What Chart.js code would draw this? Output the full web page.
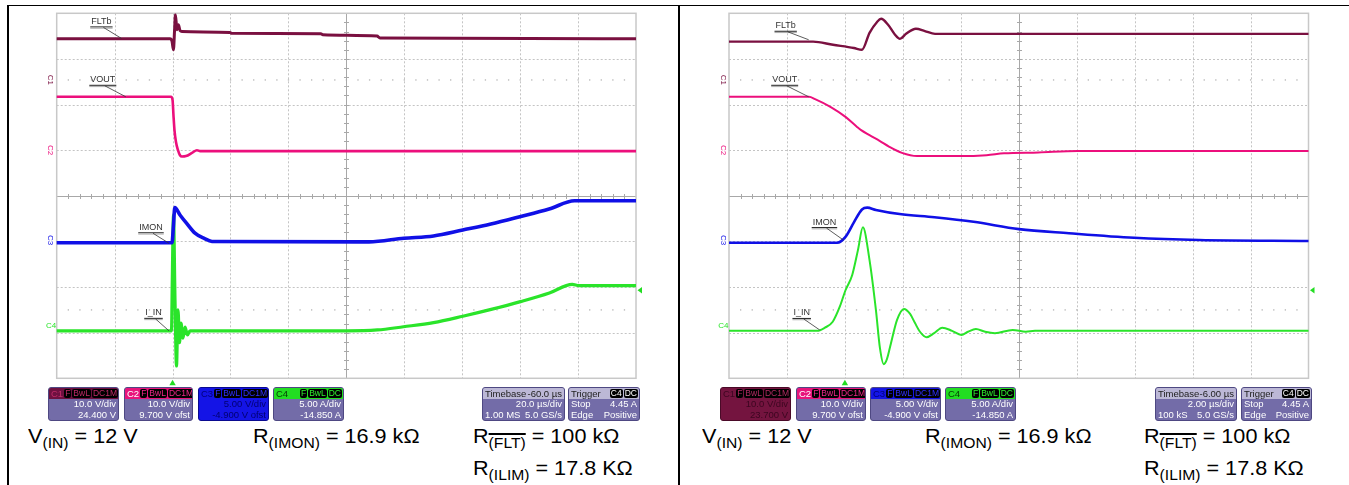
<!DOCTYPE html>
<html><head><meta charset="utf-8">
<script src="https://cdn.jsdelivr.net/npm/chart.js@4.4.0/dist/chart.umd.min.js"></script>
<style>
html,body{margin:0;padding:0;background:#fff;width:1349px;height:485px;overflow:hidden;font-family:"Liberation Sans",Arial,sans-serif;}
.ln{position:absolute;background:#000;}
canvas{position:absolute;}
.box{position:absolute;top:387px;height:34px;background:#736ca8;border:1px solid #4e4882;border-radius:3px;box-sizing:border-box;overflow:hidden;font-size:9.5px;color:#fff;}
.hdr{height:11px;line-height:11px;display:flex;align-items:center;padding:0 1px 0 2px;white-space:nowrap;}
.hdr .nm{flex:1;}
.tag{background:#000;border-radius:2px;padding:0 1px;margin-left:1px;line-height:9px;height:9px;font-size:8.5px;}
.row{height:10.5px;line-height:10.5px;text-align:right;padding-right:2px;white-space:nowrap;}
.row2{height:10.5px;line-height:10.5px;display:flex;justify-content:space-between;padding:0 2px;white-space:nowrap;}
.eq{position:absolute;font-size:20px;line-height:20px;color:#000;white-space:nowrap;transform:scaleX(1.08);transform-origin:0 0;}
.eq .s{font-size:14.5px;position:relative;top:4.5px;}
.ov{text-decoration:overline;text-decoration-thickness:1.5px;}
</style></head><body>

<div class="ln" style="left:8px;top:4.5px;width:1341px;height:1.5px"></div>
<div class="ln" style="left:7px;top:4.5px;width:1.5px;height:481px"></div>
<div class="ln" style="left:678px;top:4.5px;width:1.5px;height:481px"></div>

<canvas id="cL" width="614" height="380" style="left:36px;top:8px"></canvas>
<canvas id="cR" width="614" height="380" style="left:708px;top:8px"></canvas>

<!-- left info boxes -->
<div class="box" style="left:48px;width:71px;">
  <div class="hdr" style="background:#6e1040"><span class="nm" style="color:#c02a68">C1</span><span class="tag" style="color:#c02a68">F</span><span class="tag" style="color:#c02a68">BwL</span><span class="tag" style="color:#c02a68">DC1M</span></div>
  <div class="row">10.0 V/div</div><div class="row">24.400 V</div>
</div>
<div class="box" style="left:124px;width:69px;">
  <div class="hdr" style="background:#e8147c"><span class="nm">C2</span><span class="tag" style="color:#f0288a">F</span><span class="tag" style="color:#f0288a">BwL</span><span class="tag" style="color:#f0288a">DC1M</span></div>
  <div class="row">10.0 V/div</div><div class="row">9.700 V ofst</div>
</div>
<div class="box" style="left:198px;width:71px;background:#1414e6;border-color:#0a0a90">
  <div class="hdr" style="background:#1414e6"><span class="nm" style="color:#00007a">C3</span><span class="tag" style="color:#3030ff">F</span><span class="tag" style="color:#3030ff">BwL</span><span class="tag" style="color:#3030ff">DC1M</span></div>
  <div class="row" style="color:#000070">5.00 V/div</div><div class="row" style="color:#000070">-4.900 V ofst</div>
</div>
<div class="box" style="left:273px;width:71px;">
  <div class="hdr" style="background:#22dd22"><span class="nm" style="color:#064006">C4</span><span class="tag" style="color:#30f030">F</span><span class="tag" style="color:#30f030">BwL</span><span class="tag" style="color:#30f030">DC</span></div>
  <div class="row">5.00 A/div</div><div class="row">-14.850 A</div>
</div>
<div class="box" style="left:482px;width:83px;">
  <div class="hdr" style="background:#bcb8d6;color:#222;padding-right:2px"><span class="nm">Timebase</span><span>-60.0 µs</span></div>
  <div class="row">20.0 µs/div</div><div class="row2"><span>1.00 MS</span><span>5.0 GS/s</span></div>
</div>
<div class="box" style="left:568px;width:72px;">
  <div class="hdr" style="background:#bcb8d6;color:#222"><span class="nm">Trigger</span><span class="tag" style="color:#fff">C4</span><span class="tag" style="color:#fff">DC</span></div>
  <div class="row2"><span>Stop</span><span>4.45 A</span></div><div class="row2"><span>Edge</span><span>Positive</span></div>
</div>

<!-- right info boxes -->
<div class="box" style="left:720px;width:71px;background:#74143f;border-color:#4a0a28">
  <div class="hdr" style="background:#74143f"><span class="nm" style="color:#3c0620">C1</span><span class="tag" style="color:#b02a62">F</span><span class="tag" style="color:#b02a62">BwL</span><span class="tag" style="color:#b02a62">DC1M</span></div>
  <div class="row" style="color:#3c0620">10.0 V/div</div><div class="row" style="color:#3c0620">23.700 V</div>
</div>
<div class="box" style="left:796px;width:70px;">
  <div class="hdr" style="background:#e8147c"><span class="nm">C2</span><span class="tag" style="color:#f0288a">F</span><span class="tag" style="color:#f0288a">BwL</span><span class="tag" style="color:#f0288a">DC1M</span></div>
  <div class="row">10.0 V/div</div><div class="row">9.700 V ofst</div>
</div>
<div class="box" style="left:870px;width:71px;">
  <div class="hdr" style="background:#1414e6"><span class="nm" style="color:#00007a">C3</span><span class="tag" style="color:#3030ff">F</span><span class="tag" style="color:#3030ff">BwL</span><span class="tag" style="color:#3030ff">DC1M</span></div>
  <div class="row">5.00 V/div</div><div class="row">-4.900 V ofst</div>
</div>
<div class="box" style="left:945px;width:71px;">
  <div class="hdr" style="background:#22dd22"><span class="nm" style="color:#064006">C4</span><span class="tag" style="color:#30f030">F</span><span class="tag" style="color:#30f030">BwL</span><span class="tag" style="color:#30f030">DC</span></div>
  <div class="row">5.00 A/div</div><div class="row">-14.850 A</div>
</div>
<div class="box" style="left:1155px;width:82px;">
  <div class="hdr" style="background:#bcb8d6;color:#222;padding-right:2px"><span class="nm">Timebase</span><span>-6.00 µs</span></div>
  <div class="row">2.00 µs/div</div><div class="row2"><span>100 kS</span><span>5.0 GS/s</span></div>
</div>
<div class="box" style="left:1241px;width:71px;">
  <div class="hdr" style="background:#bcb8d6;color:#222"><span class="nm">Trigger</span><span class="tag" style="color:#fff">C4</span><span class="tag" style="color:#fff">DC</span></div>
  <div class="row2"><span>Stop</span><span>4.45 A</span></div><div class="row2"><span>Edge</span><span>Positive</span></div>
</div>

<!-- equations -->
<div class="eq" style="left:28px;top:426px">V<span class="s">(IN)</span> = 12 V</div>
<div class="eq" style="left:253px;top:426px">R<span class="s">(IMON)</span> = 16.9 kΩ</div>
<div class="eq" style="left:473px;top:426px">R<span class="s ov">(FLT)</span> = 100 kΩ</div>
<div class="eq" style="left:473px;top:458px">R<span class="s">(ILIM)</span> = 17.8 KΩ</div>
<div class="eq" style="left:702px;top:426px">V<span class="s">(IN)</span> = 12 V</div>
<div class="eq" style="left:925px;top:426px">R<span class="s">(IMON)</span> = 16.9 kΩ</div>
<div class="eq" style="left:1144px;top:426px">R<span class="s ov">(FLT)</span> = 100 kΩ</div>
<div class="eq" style="left:1144px;top:458px">R<span class="s">(ILIM)</span> = 17.8 KΩ</div>

<script>
// ---------- data (time in µs, amplitude in screen divisions) ----------
const L_T_FLTB = [-40, -0.9, -0.2, 0.3, 0.7, 1.0, 1.5, 2.0, 2.6, 3.3, 19.8, 20.5, 51.2, 51.9, 70.6, 71.6, 160];
const L_V_FLTB = [3.44, 3.44, 3.39, 3.20, 3.64, 3.97, 3.64, 3.75, 3.62, 3.60, 3.58, 3.56, 3.55, 3.53, 3.50, 3.46, 3.44];
const L_T_VOUT = [-40, -0.55, 0, 0.31, 0.66, 1.18, 1.87, 2.56, 3.25, 4.63, 6.7, 8.43, 9.5, 160];
const L_V_VOUT = [2.17, 2.17, 2.10, 1.77, 1.44, 1.18, 1.00, 0.89, 0.86, 0.87, 0.94, 1.00, 0.98, 0.98];
const L_T_IMON = [-40, -0.19, 0.32, 0.77, 2.57, 4.81, 7.75, 10.79, 13.62, 67.82, 79.9, 90.1, 100.2, 109.9, 119.9, 130.0, 138.8, 160];
const L_V_IMON = [-1.03, -1.03, -0.64, -0.26, -0.42, -0.60, -0.82, -0.93, -1.00, -1.01, -0.93, -0.88, -0.75, -0.62, -0.46, -0.29, -0.11, -0.11];
const L_T_IIN = [-40, -0.37, -0.09, 0.32, 0.84, 1.36, 1.88, 2.40, 2.91, 3.60, 4.30, 5.16, 6.02, 60.2, 70.7, 79.7, 90.1, 100.2, 110.0, 120.1, 130.1, 138.0, 140.3, 160];
const L_V_IIN = [-2.96, -2.96, -1.84, -0.42, -2.28, -3.73, -2.50, -3.22, -2.79, -3.12, -2.88, -3.05, -2.96, -2.96, -2.94, -2.87, -2.78, -2.64, -2.49, -2.32, -2.13, -1.94, -1.97, -1.97];

const R_T_FLTB = [-4, -1.10, -0.41, 0.31, 0.59, 0.85, 1.11, 1.25, 1.49, 1.73, 1.90, 2.11, 2.45, 2.76, 3.11, 16];
const R_V_FLTB = [3.38, 3.38, 3.31, 3.24, 3.20, 3.57, 3.81, 3.88, 3.75, 3.53, 3.44, 3.55, 3.66, 3.61, 3.55, 3.55];
const R_T_VOUT = [-4, -1.24, -1.03, -0.50, 0.02, 0.42, 0.56, 0.85, 1.21, 1.52, 1.97, 2.49, 3.99, 4.89, 5.49, 6.68, 8.03, 16];
const R_V_VOUT = [2.17, 2.17, 2.12, 1.95, 1.73, 1.51, 1.44, 1.33, 1.20, 1.08, 0.94, 0.87, 0.87, 0.89, 0.93, 0.95, 0.98, 0.98];
const R_T_IMON = [-4, -0.27, 0.02, 0.32, 0.59, 0.77, 1.07, 1.89, 3.09, 4.44, 6.01, 7.73, 9.98, 12.22, 16];
const R_V_IMON = [-1.03, -1.03, -0.90, -0.57, -0.30, -0.26, -0.31, -0.40, -0.47, -0.57, -0.73, -0.82, -0.92, -0.97, -0.99];
const R_T_IIN = [-4, -0.96, -0.69, -0.42, -0.17, 0.02, 0.25, 0.45, 0.62, 0.85, 1.07, 1.21, 1.34, 1.45, 1.59, 1.80, 2.04, 2.25, 2.42, 2.59, 2.82, 3.08, 3.36, 3.70, 4.02, 4.25, 4.52, 4.84, 5.18, 5.79, 6.24, 6.56, 16];
const R_V_IIN = [-2.96, -2.96, -2.89, -2.76, -2.42, -2.07, -1.74, -1.19, -0.69, -1.41, -2.50, -3.34, -3.69, -3.58, -3.23, -2.72, -2.48, -2.59, -2.79, -2.98, -3.10, -3.01, -2.89, -2.96, -3.05, -2.98, -2.92, -2.98, -3.01, -2.94, -2.98, -2.96, -2.96];

const TRACE_NAMES = ['FLTb', 'VOUT', 'IMON', 'I_IN'];
const CHANNEL_NAMES = ['C1', 'C2', 'C3', 'C4'];
const CHANNEL_LEVELS = [2.54, 1.0, -0.97, -2.9];
const TRIGGER_LEVEL = -2.07;
const REF_DOT_LEVELS = [2.54, -2.5];
const LEFT_RANGE = [-40, 160];
const RIGHT_RANGE = [-4, 16];
const LEFT_ANCHORS_T = [-17.66, -16.14, -1.23, -1.23];
const LEFT_ANCHORS_V = [3.45, 2.17, -1.04, -2.96];
const RIGHT_ANCHORS_T = [-1.25, -1.25, -0.05, -0.87];
const RIGHT_ANCHORS_V = [3.42, 2.17, -0.97, -2.94];

// ---------- styling ----------
const COLORS = ['#7a1040', '#ec0f7c', '#1010e6', '#2ae42a'];
const LABEL_OFFSETS_L = [[-20,-17],[-23,-17],[-18,-16],[-15.5,-18]];
const LABEL_OFFSETS_R = [[-23,-14],[-24,-17],[-19,-18],[-18,-17]];

function pts(T, V){ return T.map((t,i)=>({x:t, y:V[i]})); }

const gridPlugin = {
  id:'scopeGrid',
  beforeDatasetsDraw(chart){
    const {ctx, chartArea:a, scales:{x,y}} = chart;
    const xs=x.min, xe=x.max, nx=10, ny=8;
    ctx.save();
    ctx.strokeStyle='#c4c4c4'; ctx.lineWidth=1; ctx.setLineDash([2,2]);
    for(let i=1;i<nx;i++){ if(i===nx/2) continue;
      const px=Math.round(x.getPixelForValue(xs+i*(xe-xs)/nx))+0.5;
      ctx.beginPath(); ctx.moveTo(px,a.top); ctx.lineTo(px,a.bottom); ctx.stroke(); }
    for(let j=1;j<ny;j++){ if(j===ny/2) continue;
      const py=Math.round(y.getPixelForValue(-4+j))+0.5;
      ctx.beginPath(); ctx.moveTo(a.left,py); ctx.lineTo(a.right,py); ctx.stroke(); }
    ctx.setLineDash([]);
    ctx.fillStyle='#b4b4b4';
    REF_DOT_LEVELS.forEach(l=>{ const py=y.getPixelForValue(l);
      for(let k=1;k<nx*5;k++){ const px=x.getPixelForValue(xs+k*(xe-xs)/(nx*5)); ctx.fillRect(px-0.6,py-0.6,1.3,1.3);} });
    ctx.strokeStyle='#a8a8a8'; ctx.lineWidth=1;
    const cx=Math.round(x.getPixelForValue((xs+xe)/2))+0.5, cy=Math.round(y.getPixelForValue(0))+0.5;
    ctx.beginPath(); ctx.moveTo(cx,a.top); ctx.lineTo(cx,a.bottom); ctx.moveTo(a.left,cy); ctx.lineTo(a.right,cy); ctx.stroke();
    ctx.beginPath();
    for(let k=1;k<nx*5;k++){ const px=Math.round(x.getPixelForValue(xs+k*(xe-xs)/(nx*5)))+0.5; ctx.moveTo(px,cy-2.5); ctx.lineTo(px,cy+2.5);}
    for(let k=1;k<ny*5;k++){ const py=Math.round(y.getPixelForValue(-4+k/5))+0.5; ctx.moveTo(cx-2.5,py); ctx.lineTo(cx+2.5,py);}
    ctx.stroke();
    ctx.strokeStyle='#c8c8c8'; ctx.lineWidth=1.5;
    ctx.strokeRect(a.left,a.top,a.right-a.left,a.bottom-a.top);
    ctx.restore();
  }
};

const markPlugin = {
  id:'scopeMarks',
  afterDatasetsDraw(chart, args, o){
    const {ctx, chartArea:a, scales:{x,y}} = chart;
    ctx.save();
    ctx.font="9px 'Liberation Sans', Arial, sans-serif";
    TRACE_NAMES.forEach((name,i)=>{
      const ax=x.getPixelForValue(o.at[i]), ay=y.getPixelForValue(o.av[i]);
      const cx=ax+o.off[i][0], cy=ay+o.off[i][1];
      const w=ctx.measureText(name).width;
      ctx.fillStyle='#333'; ctx.textAlign='center'; ctx.textBaseline='middle';
      ctx.fillText(name,cx,cy);
      ctx.strokeStyle='#222'; ctx.lineWidth=1;
      ctx.beginPath(); ctx.moveTo(cx-w/2-1,cy+5.5); ctx.lineTo(cx+w/2+1,cy+5.5); ctx.stroke();
      ctx.strokeStyle='#aaa';
      ctx.beginPath(); ctx.moveTo(cx-w/2-1,cy+6.8); ctx.lineTo(cx+w/2+1,cy+6.8); ctx.stroke();
      ctx.strokeStyle='#333'; ctx.lineWidth=0.8;
      ctx.beginPath(); ctx.moveTo(cx+2,cy+6); ctx.lineTo(ax,ay); ctx.stroke();
    });
    ctx.font="8px 'Liberation Sans', Arial, sans-serif";
    CHANNEL_NAMES.forEach((n,i)=>{
      const py=y.getPixelForValue(CHANNEL_LEVELS[i]);
      ctx.fillStyle=COLORS[i];
      if(i<3){ ctx.save(); ctx.translate(a.left-6,py); ctx.rotate(Math.PI/2); ctx.textAlign='center'; ctx.textBaseline='middle'; ctx.fillText(n,0,0); ctx.restore(); }
      else { ctx.textAlign='right'; ctx.textBaseline='middle'; ctx.fillText(n,a.left-0.5,py-2); }
    });
    ctx.fillStyle='#22dd22';
    const tx=x.getPixelForValue(0);
    ctx.beginPath(); ctx.moveTo(tx,a.bottom+1.5); ctx.lineTo(tx+3.2,a.bottom+7); ctx.lineTo(tx-3.2,a.bottom+7); ctx.closePath(); ctx.fill();
    const ty=y.getPixelForValue(TRIGGER_LEVEL);
    ctx.beginPath(); ctx.moveTo(a.right+1.5,ty); ctx.lineTo(a.right+6,ty-3.2); ctx.lineTo(a.right+6,ty+3.2); ctx.closePath(); ctx.fill();
    ctx.restore();
  }
};

function makeChart(id, range, series, widths, mode, anchorsT, anchorsV, offsets, pad){
  const datasets = series.map((s,i)=>({
    label: TRACE_NAMES[i], data: pts(s[0], s[1]),
    borderColor: COLORS[i], borderWidth: widths[i], pointRadius:0,
    cubicInterpolationMode: mode, tension: 0, order: i
  }));
  return new Chart(document.getElementById(id), {
    type:'line',
    data:{datasets},
    options:{
      responsive:false, animation:false, events:[],
      layout:{padding:pad},
      plugins:{legend:{display:false}, tooltip:{enabled:false},
        scopeMarks:{at:anchorsT, av:anchorsV, off:offsets}},
      scales:{x:{type:'linear',min:range[0],max:range[1],display:false},
              y:{type:'linear',min:-4,max:4,display:false}},
      elements:{line:{borderJoinStyle:'round', borderCapStyle:'round'}}
    },
    plugins:[gridPlugin, markPlugin]
  });
}

makeChart('cL', LEFT_RANGE,
  [[L_T_FLTB,L_V_FLTB],[L_T_VOUT,L_V_VOUT],[L_T_IMON,L_V_IMON],[L_T_IIN,L_V_IIN]],
  [3, 2.6, 3.6, 3.2], 'monotone', LEFT_ANCHORS_T, LEFT_ANCHORS_V, LABEL_OFFSETS_L,
  {left:20.7, top:5.3, right:14, bottom:9.7});
makeChart('cR', RIGHT_RANGE,
  [[R_T_FLTB,R_V_FLTB],[R_T_VOUT,R_V_VOUT],[R_T_IMON,R_V_IMON],[R_T_IIN,R_V_IIN]],
  [2.4, 2, 2.6, 2], 'monotone', RIGHT_ANCHORS_T, RIGHT_ANCHORS_V, LABEL_OFFSETS_R,
  {left:21, top:5.3, right:13.5, bottom:9.7});
</script>
</body></html>
